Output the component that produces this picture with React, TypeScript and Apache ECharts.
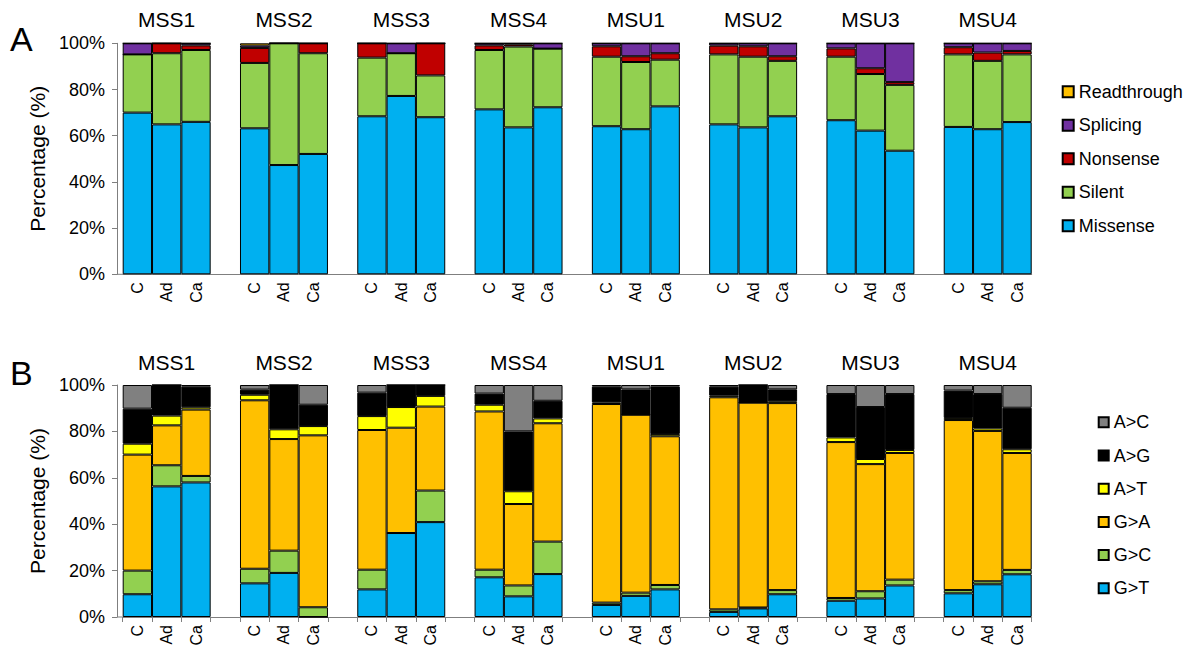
import React, { useEffect, useRef } from "react";
import * as echarts from "echarts";

const groups = ["MSS1", "MSS2", "MSS3", "MSS4", "MSU1", "MSU2", "MSU3", "MSU4"];
const samples = ["C", "Ad", "Ca"];
const yTicks = [0, 20, 40, 60, 80, 100];

// Panel A (per group: C, Ad, Ca)
const missense = [70, 64.9, 66, 63.2, 47.3, 52.1, 68.4, 77.2, 68.0, 71.4, 63.6, 72.3, 64.1, 62.8, 72.7, 64.9, 63.6, 68.4, 66.7, 62.2, 53.5, 63.8, 62.8, 65.9];
const silent = [25.2, 30.8, 31.1, 28.3, 52.7, 43.6, 25.4, 18.5, 18.1, 25.7, 35.0, 25.4, 30.1, 29.1, 20.2, 30.3, 30.6, 24.0, 27.5, 24.5, 28.5, 31.4, 29.6, 29.3];
const nonsense = [0, 4.3, 2.0, 6.5, 0, 4.3, 6.2, 0, 13.9, 2.0, 0.9, 0, 4.5, 2.5, 2.8, 3.8, 4.5, 2.0, 3.6, 2.5, 1.2, 3.1, 3.6, 1.5];
const splicing = [4.8, 0, 0.9, 1.0, 0, 0, 0, 4.3, 0, 0.9, 0.5, 2.3, 1.3, 5.6, 4.3, 1.0, 1.3, 5.6, 2.2, 10.8, 16.8, 1.7, 4.0, 3.3];
const readthrough = [0, 0, 0, 1.0, 0, 0, 0, 0, 0, 0, 0, 0, 0, 0, 0, 0, 0, 0, 0, 0, 0, 0, 0, 0];

// Panel B (per group: C, Ad, Ca)
const gT = [9.8, 56.3, 58.0, 14.5, 19.0, 0, 11.9, 36.2, 40.9, 17.1, 8.9, 18.5, 5.2, 9.1, 11.9, 2.2, 3.7, 9.8, 7.0, 8.0, 13.6, 10.2, 14.1, 18.4];
const gC = [10.2, 9.1, 2.8, 6.3, 9.6, 4.2, 8.5, 0, 13.6, 3.3, 4.7, 14.0, 1.0, 1.4, 1.9, 1.1, 0.4, 1.8, 1.2, 3.1, 2.5, 1.4, 1.3, 1.9];
const gA = [50.0, 17.2, 28.6, 72.6, 48.1, 74.1, 60.2, 45.4, 36.2, 68.2, 35.1, 51.0, 85.6, 76.7, 64.1, 91.4, 88.3, 80.6, 67.2, 54.8, 54.6, 73.3, 64.8, 50.4];
const aT = [4.7, 4.2, 1.0, 2.4, 4.2, 4.0, 6.0, 8.9, 4.6, 2.9, 5.5, 2.1, 0.7, 0, 1.0, 0.7, 0, 0.8, 2.0, 2.2, 1.3, 0.9, 1.1, 1.6];
const aG = [15.1, 13.2, 8.9, 2.2, 19.1, 9.2, 10.1, 9.5, 4.7, 4.8, 25.8, 7.6, 6.8, 10.9, 20.4, 3.9, 7.6, 5.1, 18.7, 22.4, 24.1, 11.8, 14.8, 17.9];
const aC = [10.2, 0, 0.7, 2.0, 0, 8.5, 3.3, 0, 0, 3.7, 20.0, 6.8, 0.7, 1.9, 0.7, 0.7, 0, 1.9, 3.9, 9.5, 3.9, 2.4, 3.9, 9.8];

const seriesA = [
  { name: "Missense", data: missense, color: "#00B0F0" },
  { name: "Silent", data: silent, color: "#92D050" },
  { name: "Nonsense", data: nonsense, color: "#C00000" },
  { name: "Splicing", data: splicing, color: "#7030A0" },
  { name: "Readthrough", data: readthrough, color: "#FFC000" },
];
const seriesB = [
  { name: "G>T", data: gT, color: "#00B0F0" },
  { name: "G>C", data: gC, color: "#92D050" },
  { name: "G>A", data: gA, color: "#FFC000" },
  { name: "A>T", data: aT, color: "#FFFF00" },
  { name: "A>G", data: aG, color: "#000000" },
  { name: "A>C", data: aC, color: "#808080" },
];

const FONT = "Liberation Sans, Arial, sans-serif";
const AXIS_COLOR = "#7f7f7f";

// categories with blank gap slots between groups
const categories: string[] = [];
groups.forEach((g, gi) => {
  samples.forEach((s) => categories.push(s));
  if (gi < groups.length - 1) categories.push("");
});

function expand(values: number[]) {
  const out: (number | string)[] = [];
  groups.forEach((g, gi) => {
    for (let i = 0; i < 3; i++) out.push(values[gi * 3 + i]);
    if (gi < groups.length - 1) out.push("-");
  });
  return out;
}

const GRID_LEFT = 122.7;
const GRID_WIDTH = 909;
const PANELS = [
  { top: 43.3, height: 231, letter: "A", letterY: 39, titleY: 19, ticks: false },
  { top: 385, height: 232, letter: "B", letterY: 373, titleY: 362, ticks: true },
];

export default function App() {
  const ref = useRef<HTMLDivElement>(null);
  useEffect(() => {
    if (!ref.current) return;
    const chart = echarts.init(ref.current, undefined, { renderer: "svg" });
    const slot = GRID_WIDTH / categories.length;

    const grids = PANELS.map((p) => ({
      left: GRID_LEFT,
      top: p.top,
      width: GRID_WIDTH,
      height: p.height,
      containLabel: false,
    }));

    const xAxes = PANELS.map((p, i) => ({
      type: "category",
      gridIndex: i,
      data: categories,
      axisLine: { show: true, lineStyle: { color: AXIS_COLOR, width: 1 } },
      axisTick: { show: p.ticks, interval: 0, length: 5, lineStyle: { color: AXIS_COLOR } },
      axisLabel: {
        interval: 0,
        rotate: 90,
        margin: 8,
        fontSize: 16,
        color: "#000",
        fontFamily: FONT,
      },
    }));

    const yAxes = PANELS.map((p, i) => ({
      type: "value",
      gridIndex: i,
      min: yTicks[0],
      max: yTicks[yTicks.length - 1],
      interval: 20,
      offset: 5.7,
      splitLine: { show: false },
      axisLine: { show: true, lineStyle: { color: AXIS_COLOR, width: 1 } },
      axisTick: { show: true, length: 5, lineStyle: { color: AXIS_COLOR } },
      axisLabel: {
        formatter: "{value}%",
        fontSize: 18,
        margin: 12,
        color: "#000",
        fontFamily: FONT,
      },
      name: "Percentage (%)",
      nameLocation: "middle",
      nameGap: 67,
      nameTextStyle: { fontSize: 21, color: "#000", fontFamily: FONT },
    }));

    const mkSeries = (list: any[], idx: number) =>
      list.map((s) => ({
        type: "bar",
        name: s.name,
        stack: "stack" + idx,
        xAxisIndex: idx,
        yAxisIndex: idx,
        barCategoryGap: "0%",
        data: expand(s.data),
        itemStyle: { color: s.color, borderColor: "#000", borderWidth: 1 },
        emphasis: { disabled: true },
      }));

    const graphics: any[] = [];
    PANELS.forEach((p) => {
      graphics.push({
        type: "text",
        left: 10,
        top: p.letterY - 17,
        style: { text: p.letter, fontSize: 34, fill: "#000", fontFamily: FONT },
      });
      graphics.push({
        type: "line",
        shape: { x1: GRID_LEFT - 5.7, y1: p.top + p.height, x2: GRID_LEFT, y2: p.top + p.height },
        style: { stroke: AXIS_COLOR, lineWidth: 1 },
      });
      groups.forEach((g, gi) => {
        const cx = GRID_LEFT + slot * (gi * 4 + 1.5);
        graphics.push({
          type: "text",
          x: cx,
          y: p.titleY,
          style: {
            text: g,
            fontSize: 21,
            fill: "#000",
            fontFamily: FONT,
            align: "center",
            verticalAlign: "middle",
          },
        });
      });
    });

    const legendCommon = {
      orient: "vertical",
      itemGap: 15.5,
      icon: "rect",
      textStyle: { fontSize: 18, color: "#000", fontFamily: FONT, lineHeight: 18 },
      selectedMode: false,
      padding: 0,
    };

    chart.setOption({
      animation: false,
      grid: grids,
      xAxis: xAxes,
      yAxis: yAxes,
      legend: [
        {
          ...legendCommon,
          left: 1061.7,
          top: 82.7,
          itemWidth: 11,
          itemHeight: 11,
          data: ["Readthrough", "Splicing", "Nonsense", "Silent", "Missense"],
        },
        {
          ...legendCommon,
          left: 1097.7,
          top: 413.3,
          itemGap: 15.2,
          itemWidth: 10,
          itemHeight: 10,
          data: ["A>C", "A>G", "A>T", "G>A", "G>C", "G>T"],
        },
      ],
      graphic: graphics,
      series: [...mkSeries(seriesA, 0), ...mkSeries(seriesB, 1)],
    });
    return () => chart.dispose();
  }, []);
  return (
    <div
      ref={ref}
      style={{ position: "fixed", left: 0, top: 0, width: 1197, height: 651, background: "#fff" }}
    />
  );
}
